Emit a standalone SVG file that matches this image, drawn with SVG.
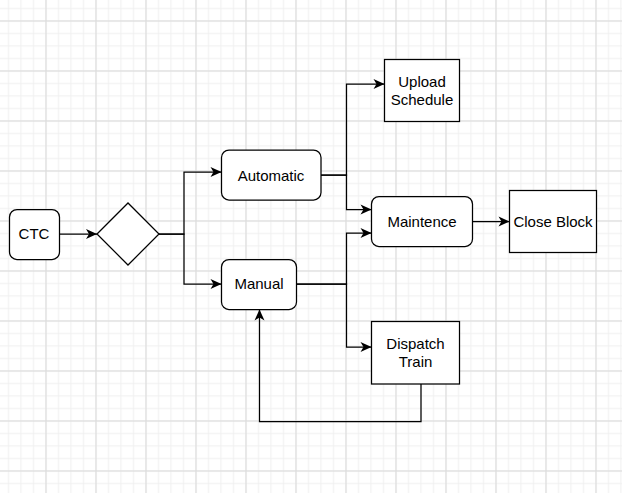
<svg xmlns="http://www.w3.org/2000/svg" width="622" height="493" viewBox="0 0 622 493">
<style>
.box{fill:#fff;stroke:#000;stroke-width:1.25}
.lbl{font-family:"Liberation Sans",Arial,sans-serif;font-size:15px;fill:#000;text-anchor:middle}
.edge{fill:none;stroke:#000;stroke-width:1.25;marker-end:url(#arr)}
.plain{fill:none;stroke:#000;stroke-width:1.25}
</style>
<defs>
<pattern id="gmin" patternUnits="userSpaceOnUse" x="2" y="2" width="12.5" height="12.5">
<path d="M6.5 0V12.5M0 6.5H12.5" stroke="#f0f0f0" stroke-width="1" fill="none"/>
</pattern>
<pattern id="gmaj" patternUnits="userSpaceOnUse" x="21" y="-4" width="50" height="50">
<path d="M25 0V50M0 25H50" stroke="#dadada" stroke-width="1" fill="none"/>
</pattern>
<marker id="arr" markerUnits="userSpaceOnUse" viewBox="-12 -6 12 12" refX="0" refY="0" markerWidth="12" markerHeight="12" orient="auto">
<path d="M0 0L-11 -5L-8 0L-11 5Z" fill="#000"/>
</marker>
</defs>
<rect width="622" height="493" fill="#fff"/>
<rect width="622" height="493" fill="url(#gmin)"/>
<rect width="622" height="493" fill="url(#gmaj)"/>
<g id="connectors">
<path class="edge" d="M59.5 234H97"/>
<path class="edge" d="M159 234H184V172H221.5"/>
<path class="edge" d="M159 234H184V284H221.5"/>
<path class="edge" d="M321 175H346.5V84H384.5"/>
<path class="edge" d="M321 175H346.5V209.5H371.5"/>
<path class="edge" d="M296.5 284H346.5V233H371.5"/>
<path class="edge" d="M296.5 284H346.5V347H371.5"/>
<path class="edge" d="M472.5 221.5H509.5"/>
<path class="edge" d="M421 384V421.5H259.5V309.5"/>
</g>
<g id="ctc">
<rect class="box" x="9.5" y="209.5" width="50" height="50" rx="7.5"/>
<text class="lbl" x="34" y="239">CTC</text>
</g>
<g id="decision">
<polygon class="box" points="97,234 128,203 159,234 128,265"/>
</g>
<g id="automatic">
<rect class="box" x="221.5" y="150" width="99.5" height="50" rx="7.5"/>
<text class="lbl" x="271" y="181">Automatic</text>
</g>
<g id="manual">
<rect class="box" x="221.5" y="259.5" width="75" height="50" rx="7.5"/>
<text class="lbl" x="259" y="289">Manual</text>
</g>
<g id="upload">
<rect class="box" x="384.5" y="59.5" width="75" height="62"/>
<text class="lbl" x="422" y="87.3">Upload</text>
<text class="lbl" x="422" y="105">Schedule</text>
</g>
<g id="maintence">
<rect class="box" x="371.5" y="196.5" width="101" height="50" rx="7.5"/>
<text class="lbl" x="422" y="226.7">Maintence</text>
</g>
<g id="closeblock">
<rect class="box" x="509.5" y="190.5" width="87" height="62"/>
<text class="lbl" x="553" y="226.7">Close Block</text>
</g>
<g id="dispatch">
<rect class="box" x="371.5" y="321.5" width="88" height="62.5"/>
<text class="lbl" x="415.5" y="349.3">Dispatch</text>
<text class="lbl" x="415.5" y="366.7">Train</text>
</g>
</svg>
